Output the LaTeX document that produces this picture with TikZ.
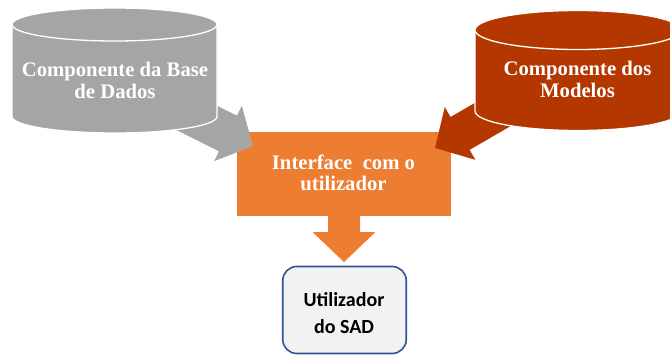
\documentclass[tikz,border=0pt]{standalone}
\usepackage{fontspec}
\usetikzlibrary{calc}
\newfontfamily\timesfont{Liberation Serif}
\newfontfamily\calibrifont{Carlito}
\definecolor{dbgray}{HTML}{A5A5A5}
\definecolor{mdred}{HTML}{B43700}
\definecolor{ifaceorange}{HTML}{ED7D31}
\definecolor{userfill}{HTML}{F2F2F2}
\definecolor{userborder}{HTML}{2F5597}

% block arrow: #1 tail, #2 tip, #3 shaft half width, #4 head half width, #5 head length, #6 colour
\newcommand\blockarrow[6]{%
  \coordinate (ba-neck) at ($(#2)!#5!(#1)$);
  \fill[#6] ($(#1)!#3!90:(#2)$) -- ($(ba-neck)!#3!90:(#2)$) -- ($(ba-neck)!#4!90:(#2)$)
    -- (#2) -- ($(ba-neck)!#4!-90:(#2)$) -- ($(ba-neck)!#3!-90:(#2)$) -- ($(#1)!#3!-90:(#2)$) -- cycle;
}
% drum: #1 centre x, #2 top y, #3 bottom y, #4 x radius, #5 y radius, #6 colour
\newcommand\drumshape[6]{%
  \fill[#6] (#1-#4,#2) -- (#1-#4,#3) arc[start angle=180,end angle=0,x radius=#4,y radius=#5]
    -- (#1+#4,#2) arc[start angle=0,end angle=-180,x radius=#4,y radius=#5] -- cycle;
  \draw[white,line width=1.3pt] (#1-#4,#2) -- (#1-#4,#3) arc[start angle=180,end angle=0,x radius=#4,y radius=#5]
    -- (#1+#4,#2);
  \draw[white,line width=1.3pt] (#1,#2) ellipse[x radius=#4,y radius=#5];
}

\begin{document}
\begin{tikzpicture}[x=1pt,y=-1pt,
  serifbold/.style={text=white,font=\timesfont\bfseries\fontsize{20.7}{21.7}\selectfont,align=center,inner sep=0pt},
  userlabel/.style={text=black,font=\calibrifont\bfseries\fontsize{20}{27}\selectfont,align=center,inner sep=0pt}]
\useasboundingbox (0,0) rectangle (670,356);

% interface box and its arrow down to the user
\node[fill=ifaceorange,minimum width=214pt,minimum height=84pt,inner sep=0pt] (iface) at (344,174) {};
\node[fill=userfill,draw=userborder,line width=1.6pt,rounded corners=14pt,
      minimum width=123.5pt,minimum height=87pt,inner sep=0pt] (user) at (344.5,310) {};
\coordinate (ifacetail) at (344,200);
\coordinate (usertip) at (344,262);
\blockarrow{ifacetail}{usertip}{16pt}{31.5pt}{30pt}{ifaceorange}

% arrows from the two components
\coordinate (dbtail) at (173,106);
\coordinate (dbtip) at (253,146);
\blockarrow{dbtail}{dbtip}{20pt}{31pt}{28pt}{dbgray}
\coordinate (mdtail) at (521.5,97.8);
\coordinate (mdtip) at (435,148);
\blockarrow{mdtail}{mdtip}{19pt}{30.5pt}{29pt}{mdred}

% the two component drums
\drumshape{114.5}{24.5}{116.5}{102.5}{16.5}{dbgray}
\drumshape{578}{30}{111}{103}{19.5}{mdred}

% labels (base anchor sits on the last line)
\node[serifbold,anchor=base] (dblabel) at (115,98) {Componente da Base\\de Dados};
\node[serifbold,anchor=base] (mdlabel) at (577.5,97) {Componente dos\\Modelos};
\node[serifbold,anchor=base] (ifacelabel) at (343.5,190.7) {Interface\ \ com o\\utilizador};
\node[userlabel,anchor=base] (userlabel) at (344,333) {Utilizador\\do SAD};
\end{tikzpicture}
\end{document}
